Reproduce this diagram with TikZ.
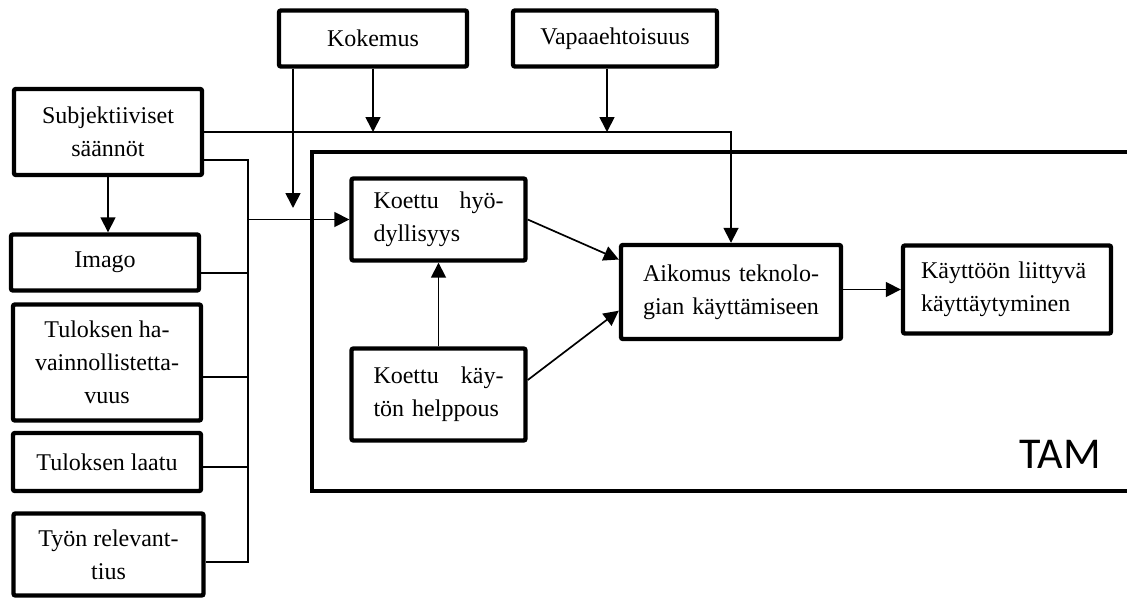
\documentclass[tikz,border=0pt]{standalone}
\usepackage{fontspec}
\setmainfont{Liberation Serif}
\newfontfamily\tamfont{Carlito}
\usepackage{tikz}
\usetikzlibrary{arrows.meta,positioning,calc}
\newcommand{\boxfont}{\fontsize{12}{16.5}\selectfont}

\begin{document}
\begin{tikzpicture}[x=0.5pt, y=-0.5pt,
  box/.style={draw, line width=2.2pt, rounded corners=1pt, align=center, font=\boxfont, minimum width=#1, inner sep=0pt},
  box/.default=94pt,
  jbox/.style={draw, line width=2.2pt, rounded corners=1pt, align=left, font=\boxfont, text width=#1, inner xsep=11pt, inner ysep=0pt},
  ar/.style={-{Triangle[length=7.5pt,width=7.5pt]}, line width=0.85pt}, ln/.style={line width=0.85pt}]
\useasboundingbox (0,0) rectangle (1127,599);
\node[box, minimum height=28pt] (kok) at (373,38.5) {Kokemus};
\node[box=102pt, minimum height=28pt] (vap) at (615,38.5) {Vapaaehtoisuus};
\node[box, minimum height=43pt] (subj) at (108,132) {Subjektiiviset\\säännöt};
\node[box, minimum height=28pt] (img) at (105,262.5) {Imago};
\node[box, minimum height=58pt] (hav) at (107,362.5) {Tuloksen ha-\\vainnollistetta-\\vuus};
\node[box, minimum height=29pt] (laa) at (107,462) {Tuloksen laatu};
\node[box=95pt, minimum height=41pt] (rel) at (108.5,554.5) {Työn relevant-\\tius};
\draw[line width=2.2pt] (312,152) rectangle (1140,491);
\node[jbox=65pt, minimum height=41pt] (hyod) at (438.5,219.5) {Koettu\hfill hyö-\\dyllisyys};
\node[jbox=65pt, minimum height=46pt] (help) at (438.5,394.5) {Koettu\hfill käy-\\tön helppous};
\node[jbox=88pt, minimum height=47pt] (aik) at (731,292) {Aikomus\hfill teknolo-\\gian käyttämiseen};
\node[jbox=86pt, inner xsep=9pt, minimum height=44pt] (kay) at (1007,289.5) {Käyttöön liittyvä\\käyttäytyminen};
\node[font=\tamfont\fontsize{22}{26}\selectfont, anchor=base east, inner sep=0pt] (tam) at (1101,468) {TAM};
\coordinate (kokin) at (293,208); \coordinate (bh) at (248,219.5);
\coordinate (bustop) at (248,160); \coordinate (busbot) at (248,562);
\coordinate (b1) at (248,273); \coordinate (b2) at (248,377); \coordinate (b3) at (248,467);
\draw[ar] (kok.south -| kokin) -- (kokin);
\draw[ar] (kok.south) -- (kok.south |- subj.east);
\draw[ar] ([xshift=-4pt]vap.south) -- ([xshift=-4pt]vap.south |- subj.east);
\draw[ar] (subj.east) -| (aik.north);
\draw[ln] (subj.east |- bustop) -- (bustop) -- (busbot) -- (rel.east |- busbot);
\draw[ln] (img.east |- b1) -- (b1); \draw[ln] (hav.east |- b2) -- (b2); \draw[ln] (laa.east |- b3) -- (b3);
\draw[ar] (bh) -- (hyod.west);
\draw[ar] (subj.south) -- (subj.south |- img.north);
\draw[ar] (help) -- (hyod);
\draw[ar] (hyod.east) -- ($(aik.north west)!0.17!(aik.south west)$);
\draw[ar] ($(help.north east)!0.35!(help.south east)$) -- ($(aik.north west)!0.69!(aik.south west)$);
\draw[ar] (aik.east |- kay.west) -- (kay.west);
\end{tikzpicture}
\end{document}
